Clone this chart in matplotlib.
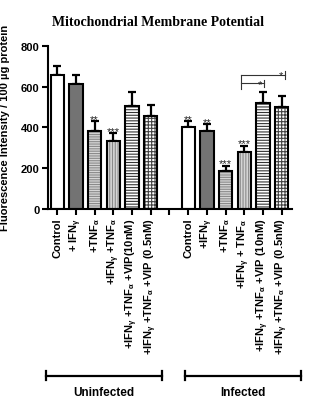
import numpy as np
import matplotlib
matplotlib.use("Agg")
import matplotlib.pyplot as plt
from matplotlib.transforms import blended_transform_factory

plt.rcParams['font.family'] = 'Liberation Sans'
plt.rcParams['font.weight'] = 'bold'
plt.rcParams['mathtext.fontset'] = 'custom'
plt.rcParams['mathtext.rm'] = 'Liberation Sans:bold'
plt.rcParams['mathtext.it'] = 'Liberation Sans:bold'
plt.rcParams['mathtext.bf'] = 'Liberation Sans:bold'
plt.rcParams['hatch.linewidth'] = 0.8

G = r'$_{\mathrm{\gamma}}$'
A = r'$_{\mathrm{\alpha}}$'

uninf_labels = ['Control', '+ IFN' + G, '+TNF' + A, '+IFN' + G + ' +TNF' + A,
                '+IFN' + G + ' +TNF' + A + ' +VIP(10nM)',
                '+IFN' + G + ' +TNF' + A + ' +VIP (0.5nM)']
inf_labels = ['Control', '+IFN' + G, '+TNF' + A, '+IFN' + G + ' + TNF' + A,
              '+IFN' + G + ' +TNF' + A + ' +VIP (10nM)',
              '+IFN' + G + ' +TNF' + A + ' +VIP (0.5nM)']
uninf_means = [656, 612, 380, 335, 506, 457]
uninf_err = [46, 44, 50, 37, 65, 52]
inf_means = [403, 383, 188, 277, 519, 498]
inf_err = [29, 33, 24, 33, 55, 57]
uninf_stars = ['', '', '**', '***', '', '']
inf_stars = ['**', '**', '***', '***', '', '']

# fill colour, hatch pattern, hatch colour for each treatment
styles = [('white', '', 'black'),
          ('#737373', '', 'black'),
          ('#d6d6d6', '-------', '#8a8a8a'),
          ('#d6d6d6', '||||||', '#8a8a8a'),
          ('white', '------', '#333333'),
          ('white', '+++++', '#444444')]

fig = plt.figure(figsize=(3.29, 4.02), dpi=100)
ax = fig.add_axes([0.145, 0.4776, 0.7425, 0.4062])

pos_u = np.arange(6)
pos_i = np.arange(7, 13)
pos = np.concatenate([pos_u, pos_i])
means = uninf_means + inf_means
errs = uninf_err + inf_err
stars = uninf_stars + inf_stars
w = 0.71

for k in range(12):
    fc, hatch, hc = styles[k % 6]
    ax.bar(pos[k], means[k], w, color=fc, edgecolor=hc, hatch=hatch, linewidth=0, zorder=2)
    ax.bar(pos[k], means[k], w, fill=False, edgecolor='black', linewidth=1.5, zorder=3)
    ax.errorbar(pos[k], means[k], yerr=[[0], [errs[k]]], color='black', lw=1.6,
                capsize=2.8, capthick=1.6, zorder=1)
    if stars[k]:
        ax.text(pos[k], means[k] + errs[k] - 4, stars[k], ha='center', va='baseline',
                fontsize=8, fontweight='normal', color='#222222')

# comparison brackets over the infected VIP groups
bc = '#333333'
ax.plot([9.85, 12.15], [656, 656], color=bc, lw=0.8, clip_on=False)
ax.plot([9.85, 11.05], [615, 615], color=bc, lw=0.8, clip_on=False)
ax.plot([9.85, 9.85], [656, 590], color=bc, lw=0.8, clip_on=False)
ax.plot([11.05, 11.05], [632, 599], color=bc, lw=0.8, clip_on=False)
ax.plot([12.15, 12.15], [675, 638], color=bc, lw=0.8, clip_on=False)
ax.text(10.85, 598, '*', ha='center', va='baseline', fontsize=8, fontweight='normal',
        color='#222222')
ax.text(11.95, 640, '*', ha='center', va='baseline', fontsize=8, fontweight='normal',
        color='#222222')

ax.set_xlim(-0.51, 12.55)
ax.set_ylim(0, 800)
ax.set_yticks([0, 200, 400, 600, 800])
ax.set_xticks(np.arange(13))
ax.set_xticklabels(uninf_labels + [''] + inf_labels, rotation=90, fontsize=8)
ax.tick_params(axis='both', direction='out', length=4, width=1.5, labelsize=8, pad=2)
for s in ['top', 'right']:
    ax.spines[s].set_visible(False)
for s in ['left', 'bottom']:
    ax.spines[s].set_linewidth(1.5)

ax.set_ylabel('Fluorescence Intensity / 100 µg protein', fontsize=8, fontweight='bold')
ax.yaxis.set_label_coords(-0.155, 0.5)
fig.text(0.48, 0.945, 'Mitochondrial Membrane Potential', ha='center', va='center',
         fontsize=10, fontweight='bold', family='Liberation Serif')

# group brackets below the tick labels
tr = blended_transform_factory(ax.transData, fig.transFigure)
yb = 0.0629
for x0, x1, name in [(-0.62, 5.58, 'Uninfected'), (6.83, 13.03, 'Infected')]:
    ax.plot([x0, x1], [yb, yb], color='black', lw=1.6, transform=tr, clip_on=False)
    for x in (x0, x1):
        ax.plot([x, x], [yb - 0.011, yb + 0.011], color='black', lw=1.6,
                transform=tr, clip_on=False)
    ax.text((x0 + x1) / 2, 0.0224, name, transform=tr, ha='center', va='center',
            fontsize=8.5, fontweight='bold')

fig.savefig('out.png', dpi=100)
